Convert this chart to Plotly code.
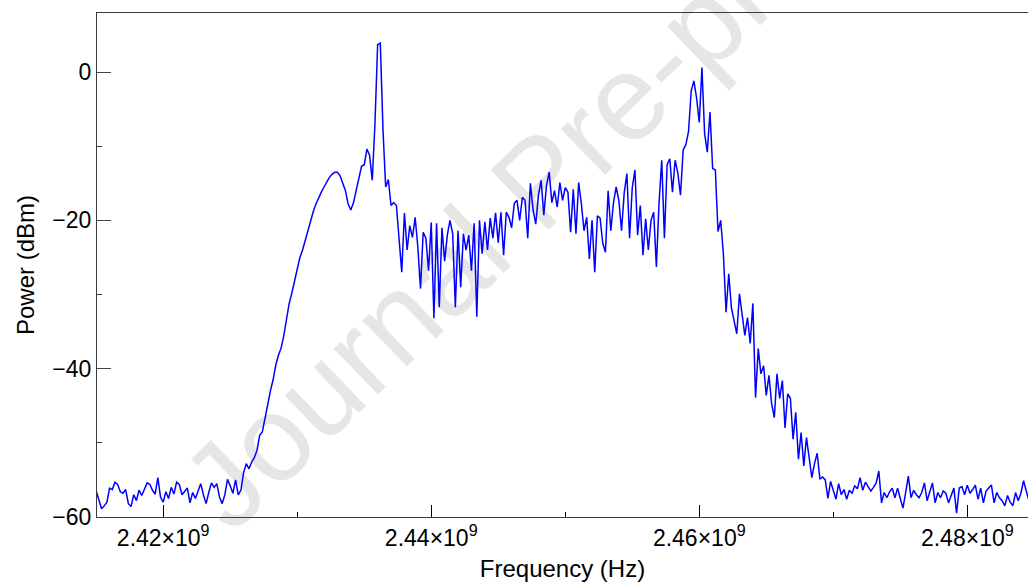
import numpy as np
import plotly.graph_objects as go

# Spectrum analyzer sweep settings (MHz)
sweep_start_mhz = 2415.0
sweep_step_mhz = 0.2

power_dbm = [
    -56.5, -57.8, -58.9, -58.5, -58.0, -56.1, -56.3, -55.3, -55.6, -56.6,
    -56.8, -56.3, -58.2, -58.6, -57.0, -57.8, -56.4, -57.1, -56.2, -55.4,
    -55.6, -56.4, -56.9, -54.7, -57.3, -58.0, -56.6, -57.5, -56.0, -56.9,
    -55.3, -55.6, -57.0, -56.5, -56.1, -58.1, -56.7, -57.5, -56.4, -55.5,
    -57.0, -58.2, -56.7, -55.4, -56.0, -55.5, -57.3, -58.2, -57.0, -54.9,
    -55.8, -56.8, -55.0, -57.0, -56.4, -54.0, -52.8, -53.5, -52.6, -52.0,
    -51.0, -49.0, -48.5, -46.6, -45.0, -43.0, -41.5, -39.5, -38.2, -37.2,
    -35.5, -33.0, -31.2, -29.8, -28.2, -26.5, -25.0, -24.0, -22.6, -21.4,
    -20.2, -18.8, -17.8, -16.9, -16.2, -15.5, -14.9, -14.2, -13.8, -13.5,
    -13.5, -14.0, -15.0, -16.0, -17.8, -18.6, -17.6, -15.8, -14.2, -12.7,
    -12.5, -10.4, -11.2, -14.6, -7.0, 3.7, 3.9, -7.8, -15.5, -14.5,
    -18.0, -17.6, -18.0, -22.0, -27.0, -19.0, -24.0, -20.7, -22.3, -19.6,
    -23.6, -29.2, -21.6, -22.4, -26.8, -20.3, -33.2, -20.4, -31.7, -21.0,
    -25.5, -22.0, -20.0, -21.8, -31.7, -21.4, -29.0, -21.8, -24.0, -22.0,
    -26.8, -20.4, -33.0, -20.0, -24.5, -20.2, -24.0, -19.7, -22.4, -19.0,
    -23.0, -18.9, -24.7, -18.9, -19.6, -21.0, -17.7, -17.3, -20.0, -16.9,
    -17.3, -22.4, -15.0, -18.6, -20.5, -16.6, -14.6, -19.3, -15.3, -13.5,
    -17.6, -16.0, -18.2, -14.9, -17.3, -15.6, -16.2, -21.6, -15.8, -21.8,
    -14.9, -17.7, -21.4, -19.6, -25.2, -20.0, -27.0, -19.4, -19.7, -23.1,
    -24.3, -16.0, -21.4, -17.6, -15.5, -17.3, -21.4, -16.3, -13.7, -22.4,
    -15.6, -13.2, -22.0, -18.0, -24.7, -19.8, -24.0, -20.0, -18.9, -26.3,
    -17.6, -11.9, -22.4, -12.5, -11.7, -16.2, -11.9, -13.6, -16.6, -10.5,
    -9.8, -8.0, -2.5, -1.2, -3.5, -6.8, 0.6, -8.3, -10.8, -5.4,
    -13.0, -13.2, -21.5, -20.0, -24.5, -32.4, -27.2, -31.8, -33.5, -35.3,
    -29.9, -32.6, -35.5, -33.1, -36.6, -31.2, -43.9, -37.3, -40.7, -39.6,
    -43.6, -40.9, -44.7, -46.6, -40.7, -44.0, -41.6, -48.0, -43.4, -44.0,
    -49.5, -45.9, -52.2, -48.6, -53.1, -49.3, -52.4, -54.7, -52.8, -51.4,
    -54.9, -54.6, -55.0, -57.5, -55.2, -56.5, -57.6, -55.5, -57.0, -56.3,
    -57.6, -56.4, -56.8, -55.8, -56.2, -54.7, -56.4, -55.3, -56.0, -56.5,
    -56.0, -55.4, -53.8, -58.1, -56.7, -57.4, -56.6, -56.1, -57.4, -56.1,
    -57.5, -58.8, -56.7, -54.5, -57.4, -56.4, -57.0, -57.4, -56.7, -55.4,
    -57.8, -56.5, -55.4, -58.1, -56.7, -57.4, -56.5, -56.8, -58.1, -57.1,
    -56.1, -59.5, -56.1, -55.9, -57.0, -55.7, -56.8, -56.3, -55.7, -57.6,
    -56.1, -58.1, -56.5, -56.1, -55.7, -58.1, -56.7, -57.4, -57.8, -58.5,
    -57.1, -58.0, -58.5, -56.7, -57.8, -56.8, -55.1, -56.5, -57.8,
]

freq_hz = (sweep_start_mhz + sweep_step_mhz * np.arange(len(power_dbm))) * 1e6

x_tick_vals = [2.42e9, 2.44e9, 2.46e9, 2.48e9]
x_tick_text = ["2.42×10<sup>9</sup>", "2.44×10<sup>9</sup>",
               "2.46×10<sup>9</sup>", "2.48×10<sup>9</sup>"]
x_minor_vals = [2.43e9, 2.45e9, 2.47e9]
y_tick_vals = [0, -20, -40, -60]
y_tick_text = ["0", "−20", "−40", "−60"]
y_minor_vals = [-10, -30, -50]

watermark_text = "Journal Pre-proof"

font_family = "Arial, Liberation Sans, sans-serif"
axis_color = "#3a3a3a"

fig = go.Figure()
fig.add_trace(go.Scatter(
    x=freq_hz, y=power_dbm, mode="lines",
    line=dict(color="#0000ff", width=1.5),
    showlegend=False,
))

# Watermark (drawn beneath the data line)
fig.add_shape(
    type="rect", xref="paper", yref="paper",
    x0=0.4562, x1=0.4762, y0=0.6726, y1=0.6926,
    line=dict(width=0), fillcolor="rgba(0,0,0,0)", layer="below",
    label=dict(text=watermark_text, textangle=-44,
               textposition="middle center",
               font=dict(family=font_family, size=121, color="#e6e6e6")),
)

fig.update_layout(
    width=1028, height=586,
    margin=dict(l=97, r=0, t=13, b=69),
    paper_bgcolor="white",
    plot_bgcolor="rgba(0,0,0,0)",
    font=dict(family=font_family, color="black", size=23),
    xaxis=dict(
        range=[2415.06e6, 2484.53e6],
        showgrid=False, zeroline=False,
        showline=True, linecolor=axis_color, linewidth=1.3, mirror=True,
        ticks="inside", ticklen=12, tickwidth=1, tickcolor="black",
        tickvals=x_tick_vals, ticktext=x_tick_text,
        tickfont=dict(size=23),
        minor=dict(ticks="inside", ticklen=5, tickwidth=1, tickcolor="black",
                   tickvals=x_minor_vals, showgrid=False),
        title=dict(text="Frequency (Hz)", font=dict(size=24), standoff=10),
    ),
    yaxis=dict(
        range=[-60, 7.96],
        showgrid=False, zeroline=False,
        showline=True, linecolor=axis_color, linewidth=1.3,
        ticks="inside", ticklen=14, tickwidth=1, tickcolor="#444",
        tickvals=y_tick_vals, ticktext=y_tick_text,
        tickfont=dict(size=23),
        minor=dict(ticks="inside", ticklen=5, tickwidth=1, tickcolor="#444",
                   tickvals=y_minor_vals, showgrid=False),
        title=dict(text="Power (dBm)", font=dict(size=24), standoff=10),
    ),
)

fig.write_html("out.html")
